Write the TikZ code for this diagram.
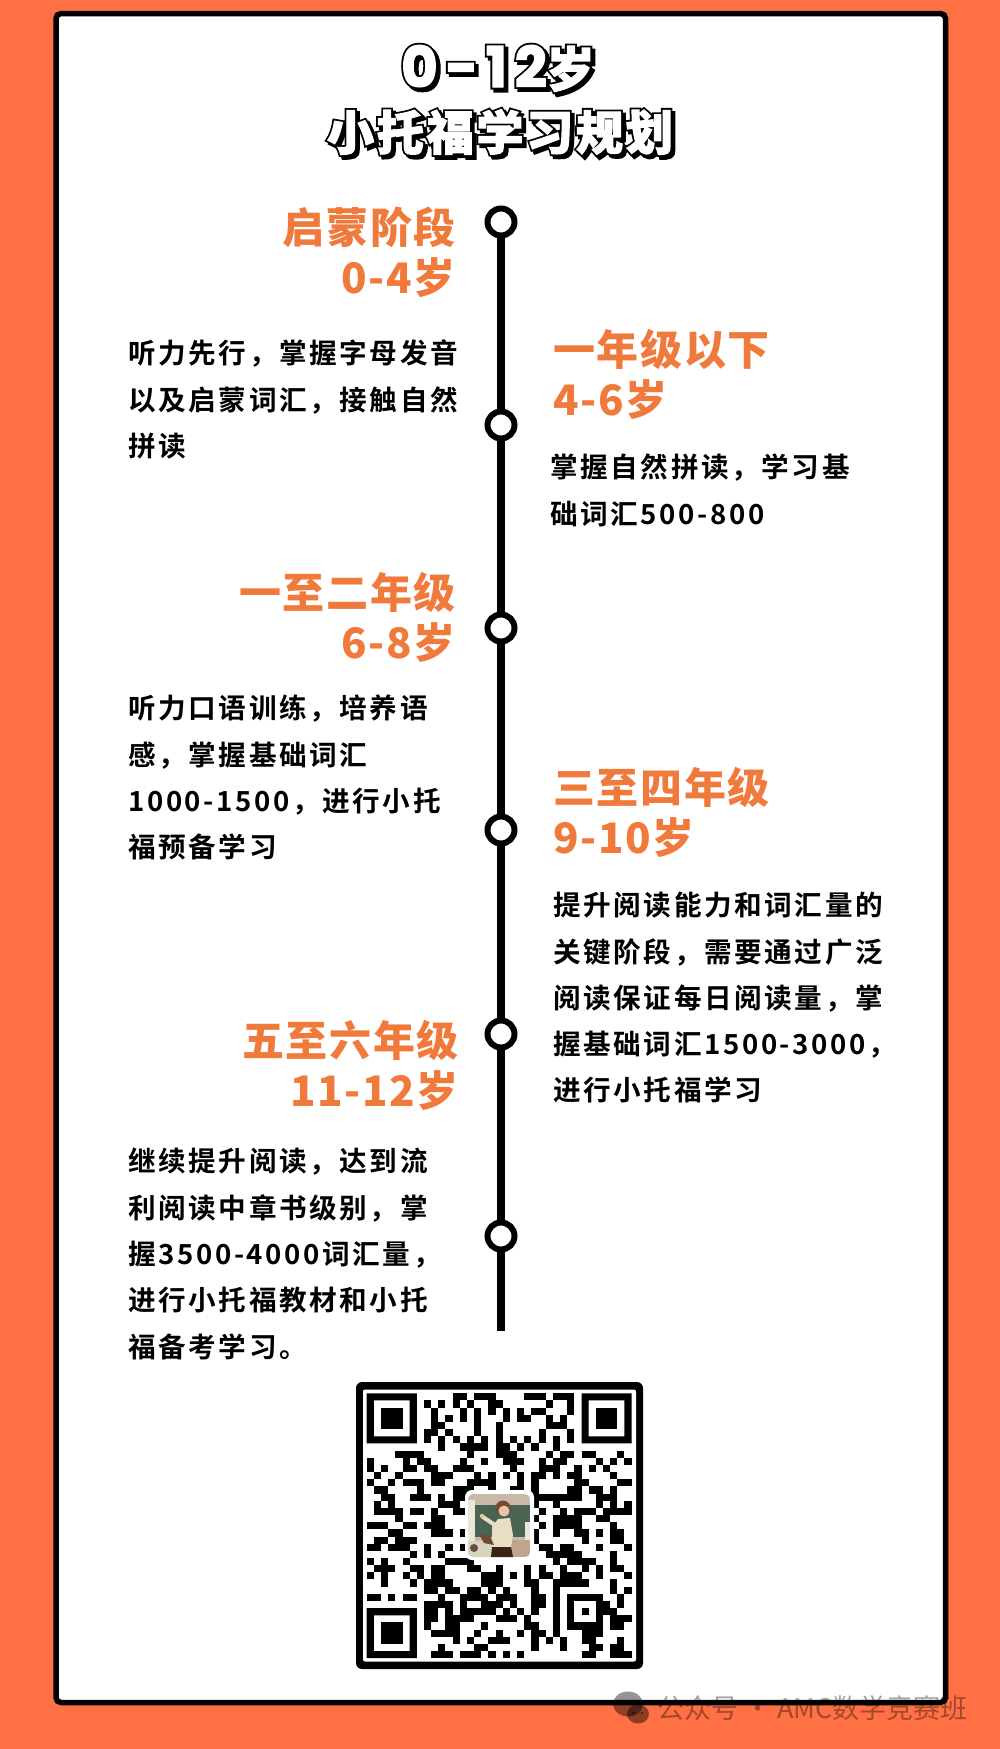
\documentclass[tikz,border=0pt]{standalone}
\usepackage{fontspec}
\setmainfont{Noto Sans CJK SC}
\newfontfamily\bodyf[LetterSpace=9.5]{Noto Sans CJK SC Bold}
\newfontfamily\headf[LetterSpace=4]{Noto Sans CJK SC Black}
\newfontfamily\ttlf[LetterSpace=6,FakeBold=2.5]{Noto Sans CJK SC Black}
\newfontfamily\ttlo[LetterSpace=6,FakeBold=10]{Noto Sans CJK SC Black}
\newfontfamily\numf[LetterSpace=14,FakeBold=2.5]{Poppins Bold}
\newfontfamily\numo[LetterSpace=14,FakeBold=9]{Poppins Bold}
\newfontfamily\wmf{Noto Sans CJK SC}
\definecolor{bgor}{HTML}{FF7144}
\definecolor{headc}{HTML}{F07A3C}
\definecolor{lgwall}{HTML}{C9B9A8}
\definecolor{lgboard}{HTML}{4A6353}
\definecolor{lgpale}{HTML}{E6E8DA}
\definecolor{lghair}{HTML}{7A4A30}
\definecolor{lgskin}{HTML}{E8C4A4}
\definecolor{lgblouse}{HTML}{E9DDC4}
\definecolor{lgdark}{HTML}{3A2418}
\definecolor{lgbook}{HTML}{6E4A34}
\definecolor{lgdesk}{HTML}{D8D3BC}
\definecolor{lgdeskb}{HTML}{BFA58C}
\tikzset{
 x=1pt,y=-1pt,
 frameline/.style={draw=black,line width=5.5pt,rounded corners=5pt,fill=white},
 spineline/.style={draw=black,line width=8pt},
 dot/.style={circle,draw=black,line width=6pt,fill=white,minimum size=27pt,inner sep=0pt,outer sep=0pt},
 headl/.style={anchor=north east,inner sep=0pt,align=right,text=headc,font=\headf\fontsize{42}{50.5}\selectfont},
 headr/.style={anchor=north west,inner sep=0pt,align=left,text=headc,font=\headf\fontsize{42}{50.5}\selectfont},
 bodyt/.style={anchor=north west,inner sep=0pt,align=left,text=black,font=\bodyf\fontsize{27.6}{46.3}\selectfont},
 ttlback/.style={inner sep=0pt,text=black},
 ttlfront/.style={inner sep=0pt,text=white},
 wmark/.style={inner sep=0pt,anchor=west,text=black,text opacity=.36,font=\wmf\fontsize{27}{30}\selectfont},
}
\newcommand{\sizeB}{\fontsize{47}{50}\selectfont}
\newcommand{\sizeA}{\fontsize{56}{56}\selectfont}
\newcommand{\sizeY}{\fontsize{48}{56}\selectfont}
\begin{document}
\begin{tikzpicture}
\useasboundingbox (0,0) rectangle (1000,1749);
\fill[bgor] (0,0) rectangle (1000,1749);
\path[frameline] (56,13.5) rectangle (945.5,1702.5);

% title, line 1: shadow, outline, face
\node[ttlback,anchor=base] (tas) at (501,90) {\numo\sizeA 0-12\ttlo\sizeY 岁};
\node[ttlback,anchor=base] (tao) at (498,87) {\numo\sizeA 0-12\ttlo\sizeY 岁};
\node[ttlfront,anchor=base] (ta) at (498,87) {\numf\sizeA 0-12\ttlf\sizeY 岁};
% title, line 2
\node[ttlback,font=\ttlo\sizeB] (tbs) at (503,135) {小托福学习规划};
\node[ttlback,font=\ttlo\sizeB] (tbo) at (500,132) {小托福学习规划};
\node[ttlfront,font=\ttlf\sizeB] (tb) at (500,132) {小托福学习规划};

% timeline
\node[dot] (c1) at (501,222) {};
\node[dot] (c2) at (501,425) {};
\node[dot] (c3) at (501,628) {};
\node[dot] (c4) at (501,830) {};
\node[dot] (c5) at (501,1034) {};
\node[dot] (c6) at (501,1236) {};
\coordinate (spineend) at (501,1331);
\draw[spineline] (c1) -- (c2);
\draw[spineline] (c2) -- (c3);
\draw[spineline] (c3) -- (c4);
\draw[spineline] (c4) -- (c5);
\draw[spineline] (c5) -- (c6);
\draw[spineline] (c6) -- (spineend);

% headings
\node[headl] (h1) at (456,206.5) {启蒙阶段\\0-4岁};
\node[headr] (h2) at (553,328.8) {一年级以下\\4-6岁};
\node[headl] (h3) at (456,571.7) {一至二年级\\6-8岁};
\node[headr] (h4) at (553,766.7) {三至四年级\\9-10岁};
\node[headl] (h5) at (459,1019.7) {五至六年级\\11-12岁};

% body
\node[bodyt] (b1) at (128,340) {听力先行，掌握字母发音\\以及启蒙词汇，接触自然\\拼读};
\node[bodyt] (b2) at (550,454) {掌握自然拼读，学习基\\础词汇500-800};
\node[bodyt] (b3) at (128,695) {听力口语训练，培养语\\感，掌握基础词汇\\1000-1500，进行小托\\福预备学习};
\node[bodyt] (b4) at (553,892) {提升阅读能力和词汇量的\\关键阶段，需要通过广泛\\阅读保证每日阅读量，掌\\握基础词汇1500-3000，\\进行小托福学习};
\node[bodyt] (b5) at (128,1148) {继续提升阅读，达到流\\利阅读中章书级别，掌\\握3500-4000词汇量，\\进行小托福教材和小托\\福备考学习。};

% QR code
\fill[black,rounded corners=6pt] (356,1382) rectangle (643,1669);
\fill[white,rounded corners=2pt] (363,1389.5) rectangle (636,1661.5);
\begin{scope}[shift={(366.7,1393.3)},x=7.16pt,y=-7.16pt]
\foreach \fx/\fy in {0/0,30/0,0/30}{
 \fill[black,even odd rule] (\fx,\fy) rectangle (\fx+7,\fy+7) (\fx+1,\fy+1) rectangle (\fx+6,\fy+6);
 \fill[black] (\fx+2,\fy+2) rectangle (\fx+5,\fy+5);
}
\foreach \r/\runs in {
0/{12/13,15/17,22/24,26/28},
1/{8/8,10/10,12/12,14/14,17/18,25/25,28/28},
2/{9/9,13/13,15/15,17/17,19/19,21/21,23/24,28/28},
3/{9/9,11/11,13/13,15/15,19/19,21/22,25/25,27/27},
4/{9/10,15/15,18/18,25/27},
5/{8/9,11/11,15/15,18/18,24/24,28/28},
6/{8/8,10/10,12/12,14/14,16/16,18/18,20/20,22/22,24/24,26/26,28/28},
7/{10/10,13/16,18/19,21/21,23/23,26/26},
8/{4/7,14/14,18/20,25/25,27/28,30/31,35/35},
9/{0/0,5/5,7/8,13/13,16/16,19/21,24/24,26/27,32/32,34/34,36/36},
10/{0/0,2/2,5/6,8/9,12/14,20/20,24/26,29/29,31/31,33/33},
11/{1/1,4/4,9/11,15/15,17/17,19/19,21/21,23/24,26/26,28/29,34/34},
12/{0/0,3/3,5/7,9/10,14/17,21/21,23/23,29/30,35/36},
13/{1/2,7/7,12/14,17/17,20/21,23/23,28/29,31/32,34/34},
14/{2/3,6/8,10/10,12/13,23/29,32/34},
15/{1/1,3/3,10/12,23/23,26/26,32/32,34/34,36/36},
16/{1/4,6/7,9/9,12/13,24/24,27/27,29/31,33/36},
17/{4/4,9/10,23/23,26/29,32/33},
18/{0/2,5/6,8/10,24/24,26/29,34/34},
19/{3/4,9/11,13/13,23/23,26/26,29/30,32/32,34/35},
20/{1/2,4/6,23/23,30/30,34/35},
21/{0/1,3/5,8/8,11/11,13/13,24/25,27/28,32/32,36/36},
22/{6/6,8/8,10/10,25/29,34/34},
23/{0/0,2/2,5/5,11/14,26/26,28/31,34/34},
24/{1/3,6/7,9/10,14/15,18/18,22/22,24/24,27/27,30/30,32/32,34/35},
25/{0/0,2/2,5/5,7/7,9/10,16/18,20/20,22/22,24/25,27/29,32/32,36/36},
26/{2/2,6/6,8/11,16/18,22/23,26/30,34/34},
27/{8/9,11/12,14/15,17/17,19/19,23/23,26/26,34/34,36/36},
28/{0/1,3/3,5/6,10/10,13/16,18/20,23/24,26/26,28/32,35/35},
29/{8/11,13/13,16/18,20/20,23/24,26/26,28/28,32/33,35/35},
30/{8/9,11/11,13/17,19/19,21/21,23/23,26/26,28/28,30/30,32/34},
31/{8/9,11/14,18/20,22/22,26/26,28/28,32/32,34/36},
32/{8/8,11/12,16/16,22/23,26/26,28/32,34/35},
33/{9/12,15/15,18/18,21/21,23/24,26/26,30/32},
34/{12/12,14/14,17/19,23/23,25/25,27/27,30/31,35/35},
35/{10/10,15/16,23/23,27/27,31/32,34/35},
36/{9/11,13/15,17/17,19/19,21/21,30/31,34/36}}{
 \foreach \a/\b in \runs {
  \fill[black] (\a,\r) rectangle (\b+1,\r+1);
 }
}
\end{scope}

% QR logo: teacher at a blackboard
\fill[white,rounded corners=7pt] (465,1490) rectangle (534,1560);
\begin{scope}
\clip[rounded corners=5pt] (468,1494) rectangle (530,1557);
\fill[lgwall] (468,1494) rectangle (530,1557);
\fill[lgpale] (468,1500) rectangle (475,1545);
\fill[lgboard] (475,1505) rectangle (530,1537);
\fill[lgpale] (525,1522) rectangle (530,1540);
\fill[lgdesk] (468,1541) rectangle (492,1557);
\fill[lgdeskb] (511,1540) rectangle (530,1557);
\fill[lgdark!75!lgdesk] (474,1548) circle[radius=4pt];
\fill[lghair] (503,1508) circle[radius=7.5pt];
\fill[lgskin] (504,1511) circle[radius=5.5pt];
\fill[lgblouse] (492,1527) -- (498,1519) -- (510,1518) -- (513,1535) -- (511,1547) -- (492,1547) -- cycle;
\draw[lgblouse,line width=4pt,line cap=round] (495,1525) -- (483,1517);
\fill[lgskin] (482,1516) circle[radius=2.2pt];
\fill[lgbook] (479,1534) -- (490,1536) -- (494,1545) -- (484,1543) -- cycle;
\fill[lgdark] (492,1547) -- (511,1547) -- (513,1557) -- (491,1557) -- cycle;
\end{scope}

% watermark
\fill[black,opacity=.42] (628,1704) ellipse[x radius=15pt,y radius=12.5pt];
\fill[black,opacity=.45] (638,1714) ellipse[x radius=11pt,y radius=9.5pt];
\fill[black,opacity=.5] (633.5,1713) circle[radius=1.3pt] (642,1713) circle[radius=1.3pt];
\node[wmark] (wm) at (657,1708) {公众号 · AMC数学竞赛班};
\end{tikzpicture}
\end{document}
